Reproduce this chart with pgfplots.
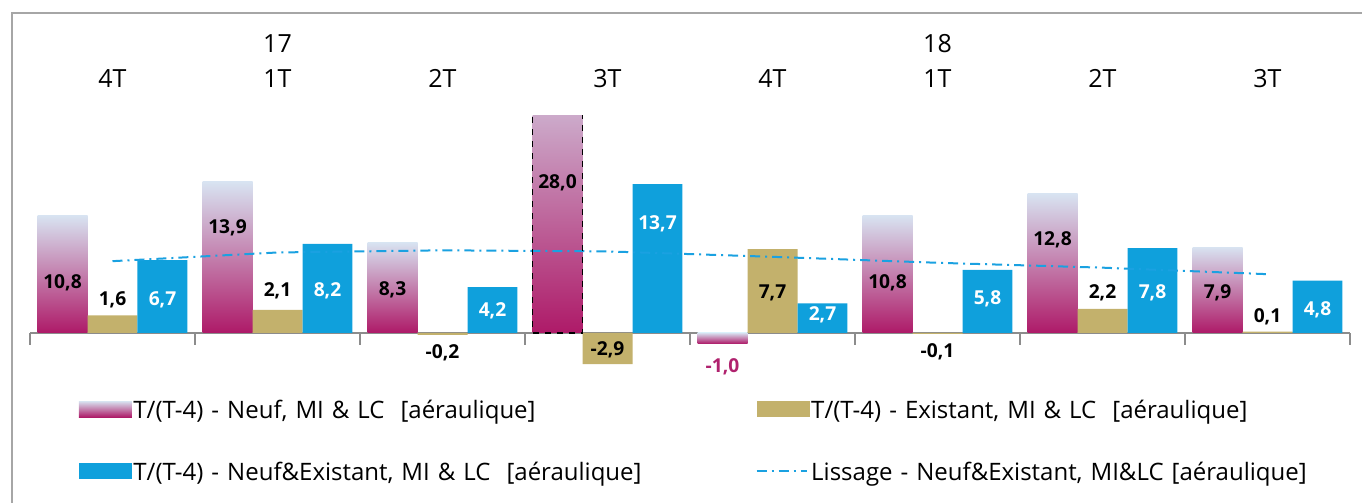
\documentclass[border=0pt]{standalone}
\usepackage{fontspec}
\setmainfont{Open Sans}
\usepackage{pgfplots}
\pgfplotsset{compat=1.18}
\definecolor{pinkbot}{HTML}{AE1A68}
\definecolor{pinktop}{HTML}{D8E3F1}
\definecolor{gold}{HTML}{C3B16C}
\definecolor{cyanbar}{HTML}{0FA0DC}
\definecolor{lisscol}{HTML}{1AA1E1}
\definecolor{axgray}{HTML}{8C8C8C}
\definecolor{framegray}{HTML}{A6A6A6}
\definecolor{labpink}{HTML}{B0226E}
\pgfplotsset{
  barleg/.style={legend image code/.code={\fill[##1,/tikz/.cd,draw=none] (0pt,-3pt) rectangle (26.5pt,5pt); \path (0pt,10.2pt);}},
  lineleg/.style={legend image code/.code={\draw[##1] (0pt,1pt) -- (25pt,1pt); \path (0pt,6pt);}},
  pinkbar/.style={ybar, bar width=0.303, bar shift=0pt, draw=none, top color=pinktop, bottom color=pinkbot},
  vallab/.style={only marks, mark=none, forget plot, nodes near coords, point meta=explicit symbolic,
    every node near coord/.style={anchor=center, inner sep=0pt, font=\bfseries\fontsize{9.6}{11}\selectfont}},
}
\begin{document}
\begin{tikzpicture}
\useasboundingbox (0pt,0pt) rectangle (681pt,251.5pt);
\draw[framegray, line width=1.3pt] (6pt,-2pt) -- (6pt,245pt) -- (683pt,245pt);
\begin{axis}[
  at={(56.25pt,85.12pt)}, anchor=origin,
  scale only axis, width=660pt, height=135.6pt,
  xmin=-0.5, xmax=7.5, ymin=-5, ymax=20,
  axis x line=middle, axis y line=none,
  x axis line style={-, axgray, line width=1pt},
  xtick={-0.5,0.5,...,7.5}, xticklabels={},
  xtick align=outside, major tick length=6pt,
  every tick/.style={axgray, line width=1pt},
  legend columns=2,
  legend cell align=left,
  legend style={at={(0.0367,-0.012)}, anchor=north west, draw=none, fill=none, inner sep=0pt,
    font=\fontsize{12}{14}\selectfont, row sep=13.3pt,
    nodes={inner xsep=0.8pt, inner ysep=2pt},
    /tikz/every even column/.append style={column sep=55.3pt, text width=255pt, align=left}},
]
\addplot[pinkbar, barleg] coordinates {(-0.303,10.8)};
\addlegendentry{T/(T-4) - Neuf, MI \& LC\ \ [aéraulique]}
\addplot[pinkbar, forget plot] coordinates {(0.697,13.9)};
\addplot[pinkbar, forget plot] coordinates {(1.697,8.3)};
\addplot[pinkbar, forget plot] coordinates {(2.697,28.0)};
\addplot[pinkbar, forget plot] coordinates {(3.697,-1.0)};
\addplot[pinkbar, forget plot] coordinates {(4.697,10.8)};
\addplot[pinkbar, forget plot] coordinates {(5.697,12.8)};
\addplot[pinkbar, forget plot] coordinates {(6.697,7.9)};
\addplot[ybar, bar width=0.303, bar shift=0pt, draw=none, fill=gold, barleg]
  coordinates {(0,1.6) (1,2.1) (2,-0.2) (3,-2.9) (4,7.7) (5,-0.1) (6,2.2) (7,0.1)};
\addlegendentry{T/(T-4) - Existant, MI \& LC\ \ [aéraulique]}
\addplot[ybar, bar width=0.303, bar shift=0pt, draw=none, fill=cyanbar, barleg]
  coordinates {(0.303,6.7) (1.303,8.2) (2.303,4.2) (3.303,13.7) (4.303,2.7) (5.303,5.8) (6.303,7.8) (7.303,4.8)};
\addlegendentry{T/(T-4) - Neuf\&Existant, MI \& LC\ \ [aéraulique]}
\addplot[lisscol, line width=1pt, mark=none, dash pattern=on 5pt off 2.5pt on 1pt off 2.5pt, lineleg]
  coordinates {(0,6.6) (1,7.4) (2,7.6) (3,7.5) (4,7.0) (5,6.45) (6,6.0) (7,5.4)};
\addlegendentry{Lissage - Neuf\&Existant, MI\&LC [aéraulique]}
% dashed outline of the truncated bar
\addplot[ybar, bar width=0.303, bar shift=0pt, draw=black, dashed, line width=0.8pt, fill=none, forget plot]
  coordinates {(2.697,28.0)};
% value labels
\addplot[vallab, nodes near coords style={text=black}] table[meta=lab] {
x y lab
-0.303 4.6 10,8
0.697 9.7 13,9
1.697 4.0 8,3
2.697 13.8 28,0
4.697 4.6 10,8
5.697 8.6 12,8
6.697 3.7 7,9
};
\addplot[vallab, nodes near coords style={text=labpink}] table[meta=lab] {
x y lab
3.697 -3.1 -1,0
};
\addplot[vallab, nodes near coords style={text=black}] table[meta=lab] {
x y lab
0 3.0 1,6
1 3.9 2,1
2 -1.85 -0,2
3 -1.55 -2,9
4 3.7 7,7
5 -1.75 -0,1
6 3.7 2,2
7 1.5 0,1
};
\addplot[vallab, nodes near coords style={text=white}] table[meta=lab] {
x y lab
0.303 3.0 6,7
1.303 3.9 8,2
2.303 2.0 4,2
3.303 10.0 13,7
4.303 1.65 2,7
5.303 3.1 5,8
6.303 3.7 7,8
7.303 2.1 4,8
};
\end{axis}
\begin{axis}[
  at={(56.25pt,85.12pt)}, anchor=origin,
  scale only axis, width=660pt, height=135.6pt,
  xmin=-0.5, xmax=7.5, ymin=-5, ymax=20,
  axis x line*=top, axis y line=none,
  x axis line style={draw=none},
  xtick={0,...,7},
  xticklabels={4T,{17\\1T},2T,3T,4T,{18\\1T},2T,3T},
  major tick length=0pt,
  xticklabel style={align=center, font=\fontsize{12.5}{17.5}\selectfont, inner sep=0pt, text depth=0pt, anchor=south},
  xticklabel shift=14pt,
]
\addplot[draw=none, forget plot] coordinates {(0,0)};
\end{axis}
\end{tikzpicture}
\end{document}
